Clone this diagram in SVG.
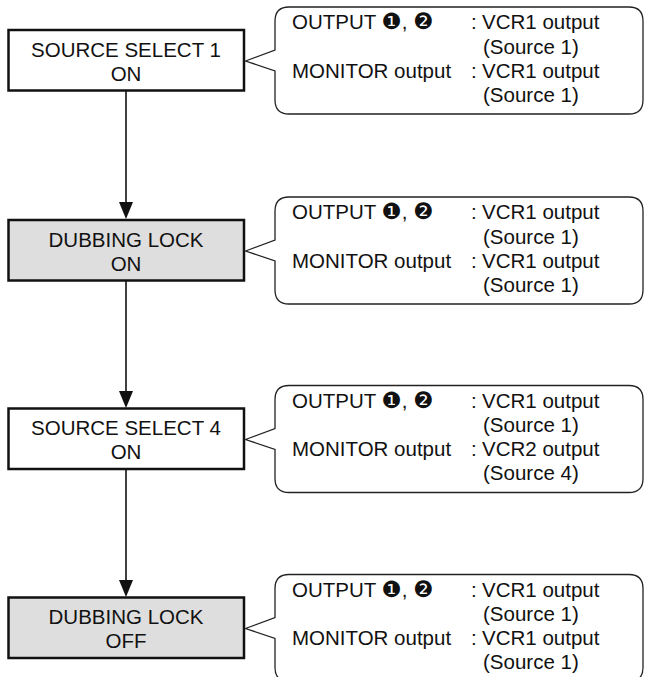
<svg xmlns="http://www.w3.org/2000/svg" width="645" height="677" viewBox="0 0 645 677">
<style>
  .box { stroke: #111; stroke-width: 2.5; }
  .plain { fill: #fff; }
  .shade { fill: #dedede; }
  .call { fill: #fff; stroke: #222; stroke-width: 1.3; stroke-linejoin: miter; }
  text { font-family: "Liberation Sans", Arial, Helvetica, sans-serif; font-size: 20.5px; fill: #111; }
  .n { font-family: "DejaVu Sans", sans-serif; font-size: 22.5px; }
  .c { text-anchor: middle; }
  .conn { stroke: #111; stroke-width: 1.6; fill: none; }
  .head { fill: #111; }
</style>
<defs>
  <path id="callout" class="call" d="M245.5,31 L275,20 L275,-9 Q275,-23 289,-23 L629,-23 Q643,-23 643,-9 L643,70 Q643,84 629,84 L289,84 Q275,84 275,70 L275,41 Z"/>
</defs>

<g id="connectors">
  <line class="conn" x1="126" y1="91" x2="126" y2="204"/>
  <path class="head" d="M119,202 L133,202 L126,219 Z"/>
  <line class="conn" x1="126" y1="281" x2="126" y2="393"/>
  <path class="head" d="M119,391 L133,391 L126,408 Z"/>
  <line class="conn" x1="126" y1="469" x2="126" y2="582"/>
  <path class="head" d="M119,580 L133,580 L126,597 Z"/>
</g>

<g id="node1" transform="translate(0,30)">
  <rect class="box plain" x="8.5" y="0" width="235.5" height="60.5"/>
  <text class="c" x="126" y="26.5">SOURCE SELECT 1</text>
  <text class="c" x="126" y="50.5">ON</text>
  <g id="callout1">
    <use href="#callout"/>
    <text x="292" y="-1">OUTPUT <tspan class="n">❶</tspan>, <tspan class="n">❷</tspan></text>
    <text x="471" y="-1">:<tspan x="482">VCR1 output</tspan></text>
    <text x="483" y="23.5">(Source 1)</text>
    <text x="292" y="47.5">MONITOR output</text>
    <text x="471" y="47.5">:<tspan x="482">VCR1 output</tspan></text>
    <text x="483" y="71.5">(Source 1)</text>
  </g>
</g>

<g id="node2" transform="translate(0,220)">
  <rect class="box shade" x="8.5" y="0" width="235.5" height="60.5"/>
  <text class="c" x="126" y="26.5">DUBBING LOCK</text>
  <text class="c" x="126" y="50.5">ON</text>
  <g id="callout2">
    <use href="#callout"/>
    <text x="292" y="-1">OUTPUT <tspan class="n">❶</tspan>, <tspan class="n">❷</tspan></text>
    <text x="471" y="-1">:<tspan x="482">VCR1 output</tspan></text>
    <text x="483" y="23.5">(Source 1)</text>
    <text x="292" y="47.5">MONITOR output</text>
    <text x="471" y="47.5">:<tspan x="482">VCR1 output</tspan></text>
    <text x="483" y="71.5">(Source 1)</text>
  </g>
</g>

<g id="node3" transform="translate(0,408.5)">
  <rect class="box plain" x="8.5" y="0" width="235.5" height="60.5"/>
  <text class="c" x="126" y="26.5">SOURCE SELECT 4</text>
  <text class="c" x="126" y="50.5">ON</text>
  <g id="callout3">
    <use href="#callout"/>
    <text x="292" y="-1">OUTPUT <tspan class="n">❶</tspan>, <tspan class="n">❷</tspan></text>
    <text x="471" y="-1">:<tspan x="482">VCR1 output</tspan></text>
    <text x="483" y="23.5">(Source 1)</text>
    <text x="292" y="47.5">MONITOR output</text>
    <text x="471" y="47.5">:<tspan x="482">VCR2 output</tspan></text>
    <text x="483" y="71.5">(Source 4)</text>
  </g>
</g>

<g id="node4" transform="translate(0,597.5)">
  <rect class="box shade" x="8.5" y="0" width="235.5" height="60.5"/>
  <text class="c" x="126" y="26.5">DUBBING LOCK</text>
  <text class="c" x="126" y="50.5">OFF</text>
  <g id="callout4">
    <use href="#callout"/>
    <text x="292" y="-1">OUTPUT <tspan class="n">❶</tspan>, <tspan class="n">❷</tspan></text>
    <text x="471" y="-1">:<tspan x="482">VCR1 output</tspan></text>
    <text x="483" y="23.5">(Source 1)</text>
    <text x="292" y="47.5">MONITOR output</text>
    <text x="471" y="47.5">:<tspan x="482">VCR1 output</tspan></text>
    <text x="483" y="71.5">(Source 1)</text>
  </g>
</g>
</svg>
